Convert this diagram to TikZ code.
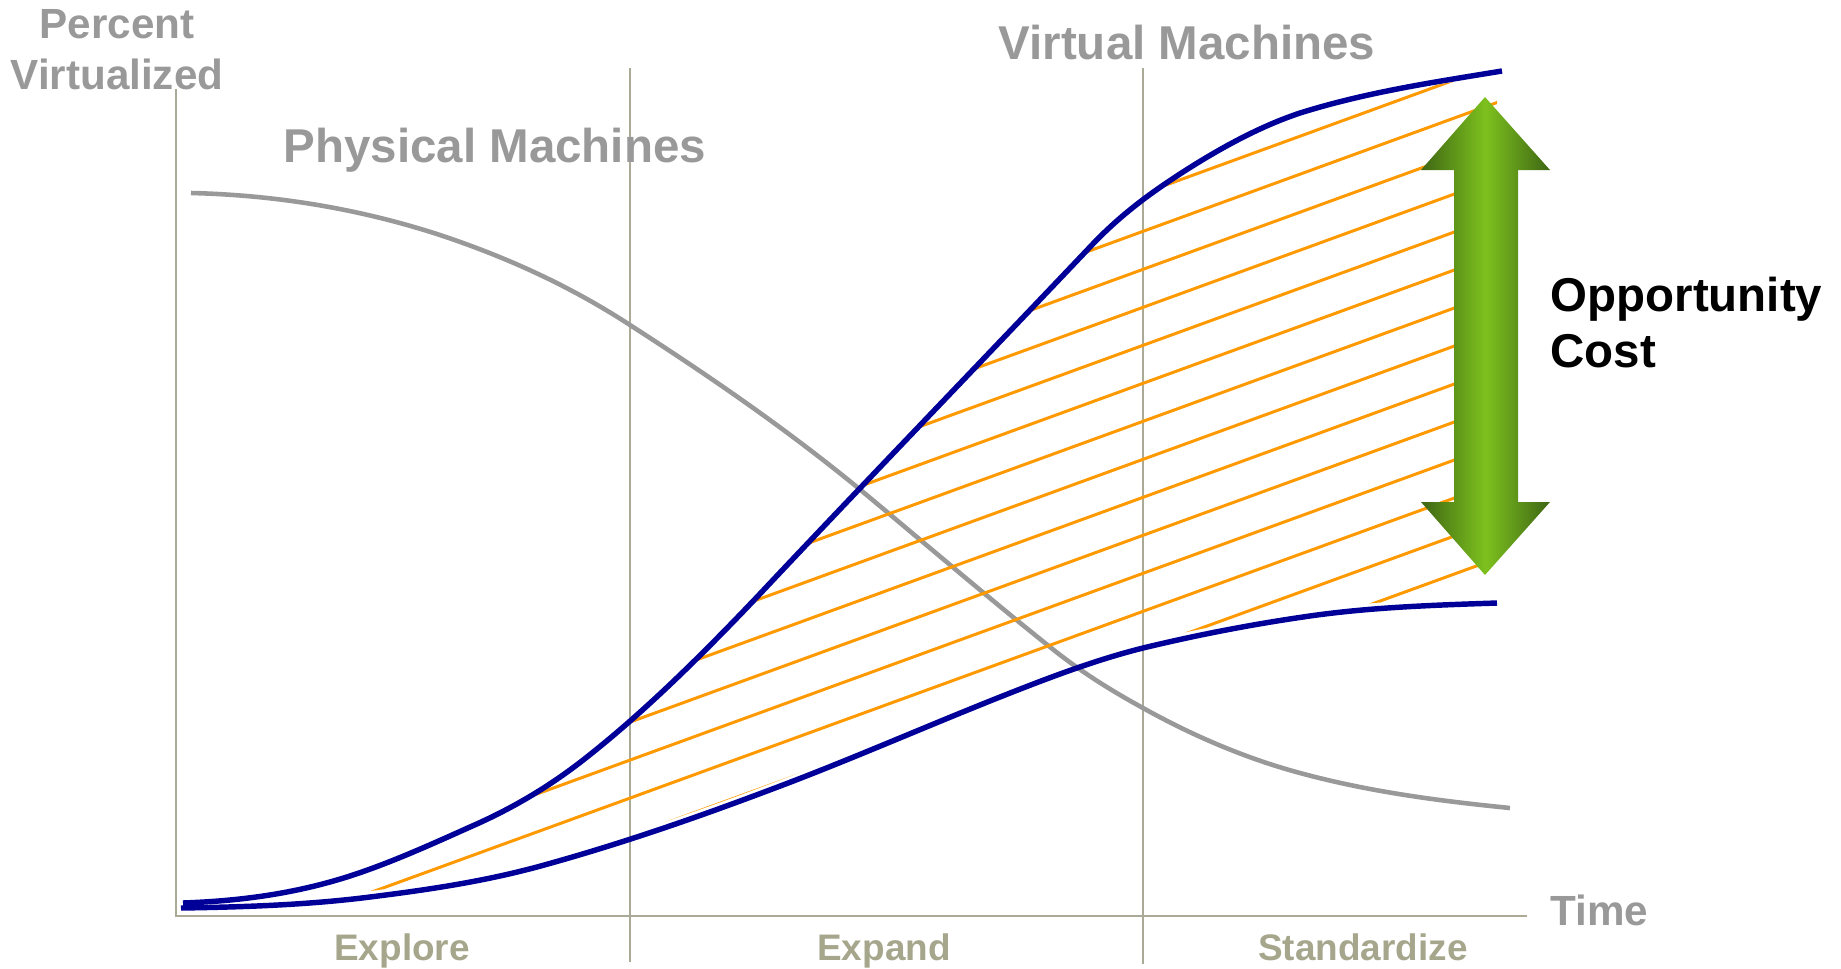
\documentclass[tikz,border=0pt]{standalone}
\usepackage{fontspec}
\setmainfont{Liberation Sans}
\definecolor{textgray}{RGB}{153,153,153}
\definecolor{axisgray}{RGB}{170,170,150}
\definecolor{phasegray}{RGB}{166,166,140}
\definecolor{vmblue}{RGB}{0,0,153}
\definecolor{hatchorange}{RGB}{255,153,0}
\definecolor{arrowlight}{RGB}{125,193,30}
\definecolor{arrowdark}{RGB}{62,102,20}

\begin{document}
\begin{tikzpicture}[x=0.01cm,y=-0.01cm,
    grid/.style={draw=axisgray,line width=0.45pt},
    title/.style={text=textgray,inner sep=0pt,font=\bfseries\fontsize{13.5}{16}\selectfont},
    axislabel/.style={text=textgray,inner sep=0pt,font=\bfseries\fontsize{12}{14.5}\selectfont},
    phase/.style={text=phasegray,inner sep=0pt,font=\bfseries\fontsize{10.5}{12}\selectfont},
    curve/.style={draw=vmblue,line width=1.55pt},
    pmcurve/.style={draw=textgray,line width=1.3pt},
    hatch/.style={draw=hatchorange,line width=0.85pt}]
    \useasboundingbox (0,0) rectangle (1841,969);

    % axes and phase dividers
    \coordinate (O) at (176,916);
    \coordinate (Ytop) at (176,89);
    \coordinate (Xend) at (1527,916);
    \coordinate (D1top) at (630,68);
    \coordinate (D1bot) at (630,962);
    \coordinate (D2top) at (1143,68);
    \coordinate (D2bot) at (1143,964);
    \draw [grid] (Ytop) -- (O) -- (Xend);
    \draw [grid] (D1top) -- (D1bot);
    \draw [grid] (D2top) -- (D2bot);

    % labels
    \node (PV) [axislabel,align=center,anchor=north] at (117,9) {Percent\\Virtualized};
    \node (T)  [axislabel,anchor=base west] at (1550,925) {Time};
    \node (PM) [title,anchor=base west] at (283,162) {Physical Machines};
    \node (VM) [title,anchor=base west] at (998,59) {Virtual Machines};
    \node (OC) [inner sep=0pt,font=\bfseries\fontsize{13.5}{15.9}\selectfont,align=left,anchor=north west] at (1550,276) {Opportunity\\Cost};
    \node (E1) [phase,anchor=base] at (402,960) {Explore};
    \node (E2) [phase,anchor=base] at (884,960) {Expand};
    \node (E3) [phase,anchor=base] at (1363,960) {Standardize};

    % physical machines
    \draw [pmcurve] (191,193) .. controls (274,195) and (357,208) .. (440,235)
        .. controls (503,256) and (567,284) .. (630,325)
        .. controls (706,374) and (781,425) .. (857,487)
        .. controls (921,540) and (986,596) .. (1050,647)
        .. controls (1081,672) and (1112,691) .. (1143,708)
        .. controls (1195,737) and (1248,759) .. (1300,773)
        .. controls (1370,792) and (1440,801) .. (1510,808);

    % opportunity cost hatching
    \begin{scope}
        \clip [yshift=-0.03cm] (183,903) .. controls (239,901) and (294,894) .. (350,876)
            .. controls (390,863) and (430,845) .. (470,827)
            .. controls (509,810) and (548,788) .. (587,757)
            .. controls (644,712) and (700,657) .. (757,597)
            .. controls (868,479) and (979,364) .. (1090,247)
            .. controls (1121,214) and (1152,192) .. (1183,172)
            .. controls (1222,147) and (1261,126) .. (1300,113)
            .. controls (1367,92) and (1435,82) .. (1502,71)
            -- (1502,969) -- (183,969) -- cycle;
        \clip [yshift=0.06cm] (181,908) .. controls (244,907) and (307,905) .. (370,897)
            .. controls (426,890) and (481,882) .. (537,867)
            .. controls (614,846) and (690,820) .. (767,791)
            .. controls (845,762) and (922,728) .. (1000,697)
            .. controls (1048,678) and (1095,660) .. (1143,648)
            .. controls (1201,634) and (1259,623) .. (1317,615)
            .. controls (1377,607) and (1437,605) .. (1497,603)
            -- (1497,0) -- (181,0) -- cycle;
        \foreach \k in {0,...,13}
            \draw [hatch] (100,{573+38*\k}) -- (1600,{27+38*\k});
    \end{scope}

    % virtual machines, upper and lower
    \draw [curve] (183,903) .. controls (239,901) and (294,894) .. (350,876)
        .. controls (390,863) and (430,845) .. (470,827)
        .. controls (509,810) and (548,788) .. (587,757)
        .. controls (644,712) and (700,657) .. (757,597)
        .. controls (868,479) and (979,364) .. (1090,247)
        .. controls (1121,214) and (1152,192) .. (1183,172)
        .. controls (1222,147) and (1261,126) .. (1300,113)
        .. controls (1367,92) and (1435,82) .. (1502,71);
    \draw [curve] (181,908) .. controls (244,907) and (307,905) .. (370,897)
        .. controls (426,890) and (481,882) .. (537,867)
        .. controls (614,846) and (690,820) .. (767,791)
        .. controls (845,762) and (922,728) .. (1000,697)
        .. controls (1048,678) and (1095,660) .. (1143,648)
        .. controls (1201,634) and (1259,623) .. (1317,615)
        .. controls (1377,607) and (1437,605) .. (1497,603);

    % double arrow
    \shade [left color=arrowdark,right color=arrowdark,middle color=arrowlight]
        (1485,97) -- (1550,170) -- (1518,170) -- (1518,502) -- (1550,502) -- (1485,575)
        -- (1421,502) -- (1454,502) -- (1454,170) -- (1421,170) -- cycle;
\end{tikzpicture}
\end{document}
